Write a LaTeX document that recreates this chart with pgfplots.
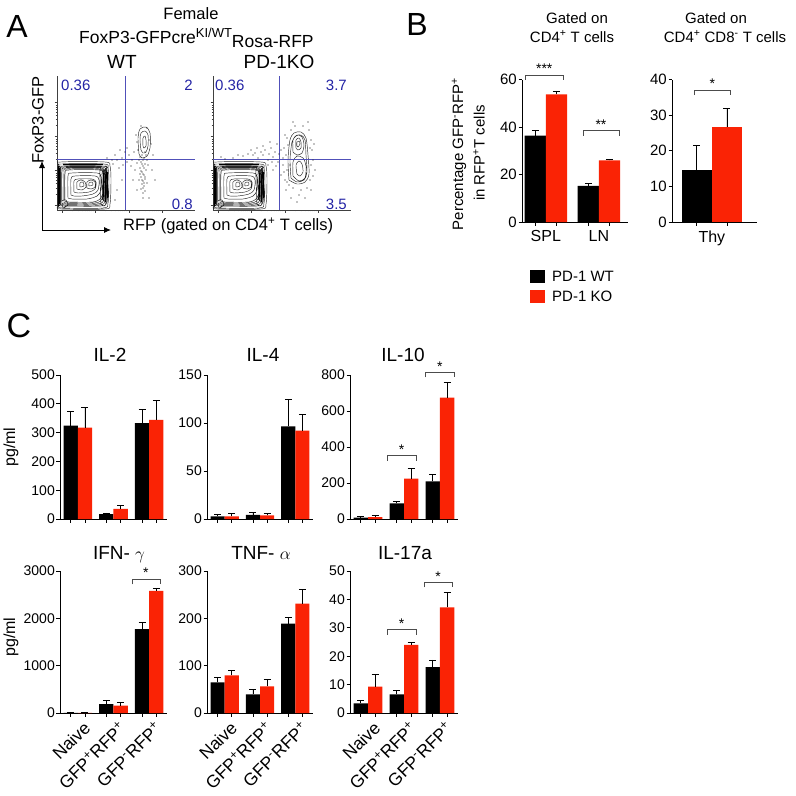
\documentclass[border=0pt]{standalone}
\usepackage{fontspec}
\setmainfont{Liberation Sans}
\usepackage{pgfplots}
\usepackage{pgfplotstable}
\pgfplotsset{compat=1.18}
\usetikzlibrary{arrows.meta}

\definecolor{koRed}{RGB}{250,35,5}
\definecolor{gateBlue}{RGB}{80,80,185}
\definecolor{numBlue}{RGB}{35,35,165}
\newcommand{\fs}[1]{\fontsize{#1}{#1}\selectfont}

% contour outlines of the main CD4 population (shared by both flow plots)
\pgfplotstableread{
x y
1 3
1 44
4 48
48 48
53 44
54 30
53 6
48 1
4 1
1 3
nan nan
2 4
2 42
5 46
47 46
51 42
52 28
51 7
46 2
5 2
2 4
nan nan
3 5
3 40
6 44
45 44
50 40
50 26
49 8
44 4
6 4
3 5
nan nan
4 6
4 39
7 43
44 43
49 39
49 25
48 9
42 5
7 5
4 6
nan nan
5 7
5 38
9 42
43 42
48 38
48 24
47 10
40 6
9 6
5 7
nan nan
7 8
7 37
10 41
42 41
47 37
47 22
45 11
38 7
10 7
7 8
nan nan
8 9
8 36
12 40
42 40
46 36
46 20
44 12
36 8
12 8
8 9
nan nan
11 12
11 34
15 37
40 37
44 33
44 20
40 14
30 11
15 11
11 12
nan nan
14 15
14 31
18 34
38 34
42 30
41 20
36 16
25 14
17 14
14 15
nan nan
17 18
17 29
21 31
35 31
39 28
38 21
32 18
21 17
17 18
nan nan
20 21
20 28
24 30
28 28
29 23
25 20
20 21
nan nan
30 22
30 28
34 30
38 28
38 23
34 21
30 22
nan nan
23 23
23 27
26 28
27 24
23 23
nan nan
32 24
32 27
35 28
36 25
32 24
nan nan
44 6
43 40
47 44
51 42
52 26
50 8
47 4
44 6
nan nan
46 10
45 38
48 40
50 36
50 14
48 9
46 10
nan nan
47 14
47 34
49 35
49 16
47 14
nan nan
6 2
5 9
9 10
11 5
6 2
}\mainpop

% dense (dark) edges of the main population
\pgfplotstableread{
x y
1.5 4
1.5 44
nan nan
3 6
3 42
nan nan
46 10
47 40
nan nan
48.5 8
49 42
nan nan
50.5 12
50.5 38
nan nan
6 45.5
46 45.5
nan nan
9 43
44 43
}\mainband

\pgfplotstableread{
x y
84 60
83 70
84 77
88 79
91 75
91 64
89 58
86 57
84 60
nan nan
86 64
86 72
88 74
89 70
89 64
87 62
86 64
nan nan
82 56
81 72
83 81
89 83
93 77
93 62
90 54
85 52
82 56
}\wtclus

\pgfplotstableread{
x y
85 55
87 52
84 48
88 46
86 44
83 42
89 40
85 38
87 35
84 33
88 31
86 29
85 26
87 24
84 21
88 19
86 17
83 36
90 50
82 50
91 45
80 47
86 12
88 58
81 60
92 70
80 68
90 82
84 84
79 75
94 66
82 30
90 27
60 50
65 52
70 48
55 50
72 55
75 50
58 55
66 45
74 44
62 42
68 58
50 52
56 46
78 40
77 58
70 62
63 60
95 40
96 55
76 30
80 20
92 12
98 30
60 20
65 30
58 10
86 50
85 46
87 42
84 39
86 36
88 33
85 30
87 27
86 22
89 55
83 53
}\wtdots

\pgfplotstableread{
x y
76 30
75 50
77 70
81 77
88 78
93 72
95 55
96 36
92 28
84 26
76 30
nan nan
78 32
77 50
79 68
83 74
88 75
92 70
93 55
94 38
91 30
84 28
78 32
nan nan
80 58
80 70
84 75
89 73
91 65
89 57
84 55
80 58
nan nan
83 62
83 70
86 72
88 68
88 62
85 60
83 62
nan nan
84 64
84 68
86 69
87 66
85 63
84 64
nan nan
80 34
80 48
84 54
90 52
93 44
92 32
86 29
80 34
nan nan
84 36
83 45
86 49
89 46
90 38
87 34
84 36
}\koclus

\pgfplotstableread{
x y
72 30
74 40
73 55
75 65
78 80
82 84
90 84
96 80
98 70
99 60
98 45
97 30
94 22
88 20
80 22
76 25
70 45
71 62
100 50
86 15
92 12
78 12
84 8
102 40
68 35
95 88
80 88
77 45
97 62
74 72
45 52
50 55
55 50
60 53
62 58
58 62
65 48
66 56
52 60
48 58
40 55
35 56
30 54
56 56
63 44
60 40
55 45
68 60
44 62
38 60
64 66
57 68
50 64
42 57
70 52
59 48
20 52
12 51
25 55
8 53
74 28
73 20
98 20
100 34
71 38
101 66
72 75
}\kodots

\pgfplotsset{
  flow/.style={scale only axis, anchor=south west, width=138pt, height=134pt,
    xmin=0, xmax=138, ymin=0, ymax=134, axis lines=left,
    axis line style={-, line width=0.5pt, black!75}, clip=false,
    tick align=outside, major tick length=2.5pt, minor tick length=1.3pt,
    every tick/.style={black!75, line width=0.4pt},
    xtick={5,38,72,105}, ytick={5,40,74,108}, xticklabels={}, yticklabels={},
    minor xtick={15,21,25,28,30,32,34,36,48,54,58,61,63,65,67,69,82,88,92,95,97,99,101,103},
    minor ytick={16,22,27,30,33,35,37,51,57,61,64,67,69,71,85,91,95,98,101,103,105}},
  contour/.style={black!85, line width=0.45pt, smooth, unbounded coords=jump},
  band/.style={black, line width=1.3pt, unbounded coords=jump},
  dots/.style={only marks, mark=*, mark size=0.3pt, black!80},
  prism/.style={scale only axis, anchor=south west, axis lines=left,
    axis line style={-, line width=0.8pt}, clip=false, ymin=0,
    tick align=outside, major tick length=3.5pt,
    every tick/.style={black, line width=0.8pt},
    tick label style={font=\fs{14}},
    /pgf/number format/assume math mode=true,
    /pgf/number format/1000 sep={},
    scaled y ticks=false,
    yticklabel style={inner sep=1.5pt},
    xmin=-0.5, xmax=2.5,
    xtick={-0.2,0.2,0.8,1.2,1.8,2.2}, xticklabels={}},
  rowtwo/.style={extra x ticks={0,1,2},
    extra x tick labels={Naive, GFP\textsuperscript{+}RFP\textsuperscript{+}, GFP\textsuperscript{-}RFP\textsuperscript{+}},
    extra x tick style={major tick length=0pt,
      xticklabel style={xshift=10pt, yshift=-11pt, rotate=45, anchor=east, inner sep=1pt, font=\fs{17.5}}}},
  errs/.style={error bars/y dir=plus, error bars/y explicit,
    error bars/error bar style={black, line width=0.8pt},
    error bars/error mark options={black, rotate=90, mark size=3.5pt, line width=0.8pt}},
  wt/.style={fill=black, draw=none, ybar, bar width=0.4, bar shift=0pt, errs},
  ko/.style={fill=koRed, draw=none, ybar, bar width=0.4, bar shift=0pt, errs},
}

% significance bracket: x1, x2, y, stars
\newcommand{\sig}[4]{\draw[draw=black!70, line width=0.6pt]
  ([yshift=-5pt]axis cs:#1,#3) -- (axis cs:#1,#3) --
  node[midway, anchor=south, inner sep=1pt, font=\fs{14}] {#4}
  (axis cs:#2,#3) -- ([yshift=-5pt]axis cs:#2,#3);}

\begin{document}
\begin{tikzpicture}
\path[use as bounding box] (0,0) rectangle (796pt,-796pt);

% ---------------- panel A ----------------
\node[anchor=base, font=\fs{32}] at (17pt,-37pt) {A};
\node[anchor=base, font=\fs{16.5}] at (191pt,-19pt) {Female};
\node[anchor=base west, font=\fs{17.5}, inner sep=0pt] at (79pt,-43pt)
  {FoxP3-GFPcre\raisebox{6pt}{\fs{13}KI/WT}\raisebox{-4pt}{Rosa-RFP}};
\node[anchor=base, font=\fs{19}] at (122pt,-68pt) {WT};
\node[anchor=base, font=\fs{19}] at (279pt,-68pt) {PD-1KO};

\begin{axis}[flow, at={(57pt,-210pt)}]
\addplot[contour] table {\mainpop};
\addplot[band] table {\mainband};
\addplot[contour] table {\wtclus};
\addplot[dots] table {\wtdots};
\addplot[gateBlue, line width=0.6pt] coordinates {(68,0) (68,134)};
\addplot[gateBlue, line width=0.6pt] coordinates {(0,51) (138,51)};
\node[anchor=west, numBlue, font=\fs{15}, inner sep=0pt] at (axis cs:4,125) {0.36};
\node[anchor=east, numBlue, font=\fs{15}, inner sep=0pt] at (axis cs:136,125) {2};
\node[anchor=east, numBlue, font=\fs{15}, inner sep=0pt] at (axis cs:136,6) {0.8};
\end{axis}

\begin{axis}[flow, at={(213pt,-210pt)}]
\addplot[contour] table {\mainpop};
\addplot[band] table {\mainband};
\addplot[contour] table {\koclus};
\addplot[dots] table {\kodots};
\addplot[gateBlue, line width=0.6pt] coordinates {(66,0) (66,134)};
\addplot[gateBlue, line width=0.6pt] coordinates {(0,51) (138,51)};
\node[anchor=west, numBlue, font=\fs{15}, inner sep=0pt] at (axis cs:2,125) {0.36};
\node[anchor=east, numBlue, font=\fs{15}, inner sep=0pt] at (axis cs:134,125) {3.7};
\node[anchor=east, numBlue, font=\fs{15}, inner sep=0pt] at (axis cs:134,6) {3.5};
\end{axis}

\node[rotate=90, font=\fs{16.5}] at (38pt,-120pt) {FoxP3-GFP};
\draw[line width=0.9pt, -{Latex[length=7pt,width=6pt]}] (42pt,-230pt) -- (42pt,-161pt);
\draw[line width=0.9pt, -{Latex[length=7pt,width=6pt]}] (42pt,-230pt) -- (111pt,-230pt);
\node[anchor=west, font=\fs{16.5}, inner sep=0pt] at (123pt,-226pt) {RFP (gated on CD4\textsuperscript{+} T cells)};

% ---------------- panel B ----------------
\node[anchor=base, font=\fs{32}] at (417pt,-35pt) {B};
\node[anchor=base, font=\fs{15}] at (577pt,-23pt) {Gated on};
\node[anchor=base, font=\fs{15}] at (572pt,-42pt) {CD4\textsuperscript{+} T cells};
\node[anchor=base, font=\fs{15}] at (716pt,-23pt) {Gated on};
\node[anchor=base, font=\fs{15}] at (725pt,-42pt) {CD4\textsuperscript{+} CD8\textsuperscript{-} T cells};
\node[rotate=90, font=\fs{15}] at (459pt,-154pt) {Percentage GFP\textsuperscript{-}RFP\textsuperscript{+}};
\node[rotate=90, font=\fs{15}] at (479pt,-153pt) {in RFP\textsuperscript{+}T cells};

\begin{axis}[prism, at={(522pt,-222pt)}, width=106pt, height=142.5pt,
  xmin=-0.45, xmax=1.55, ymax=60, ytick={0,20,40,60},
  xtick={-0.2,0.2,0.8,1.2}, tick label style={font=\fs{15}},
  extra x ticks={0,1}, extra x tick labels={SPL,LN},
  extra x tick style={major tick length=0pt, xticklabel style={yshift=-5pt, font=\fs{16}}}]
\addplot[wt] coordinates {(-0.2,36.4) +- (0,2.1) (0.8,15.2) +- (0,1.2)};
\addplot[ko] coordinates {(0.2,53.7) +- (0,1.5) (1.2,25.9) +- (0,0.5)};
\sig{-0.38}{0.32}{61.8}{***}
\sig{0.70}{1.38}{38.5}{**}
\end{axis}

\begin{axis}[prism, at={(672pt,-222pt)}, width=85pt, height=142.5pt,
  xmin=-0.53, xmax=0.6, ymax=40, ytick={0,10,20,30,40},
  xtick={-0.2,0.2}, tick label style={font=\fs{15}},
  extra x ticks={0}, extra x tick labels={Thy},
  extra x tick style={major tick length=0pt, xticklabel style={yshift=-5pt, font=\fs{16}}}]
\addplot[wt] coordinates {(-0.2,14.5) +- (0,7.0)};
\addplot[ko] coordinates {(0.2,26.6) +- (0,5.2)};
\sig{-0.24}{0.25}{37}{*}
\end{axis}

\fill[black] (530pt,-270pt) rectangle (545pt,-283pt);
\fill[koRed] (530pt,-290pt) rectangle (545pt,-303pt);
\node[anchor=west, font=\fs{15}, inner sep=0pt] at (552pt,-276.5pt) {PD-1 WT};
\node[anchor=west, font=\fs{15}, inner sep=0pt] at (552pt,-296.5pt) {PD-1 KO};

% ---------------- panel C ----------------
\node[anchor=base, font=\fs{34}] at (19pt,-337pt) {C};
\node[anchor=base, font=\fs{19}] at (110pt,-361pt) {IL-2};
\node[anchor=base, font=\fs{19}] at (263pt,-361pt) {IL-4};
\node[anchor=base, font=\fs{19}] at (403pt,-361pt) {IL-10};
\node[anchor=base, font=\fs{19}] at (119pt,-559pt) {IFN- $\gamma$};
\node[anchor=base, font=\fs{19}] at (261pt,-559pt) {TNF- $\alpha$};
\node[anchor=base, font=\fs{19}] at (405pt,-559pt) {IL-17a};
\node[rotate=90, font=\fs{16}] at (11pt,-447pt) {pg/ml};
\node[rotate=90, font=\fs{16}] at (11pt,-637pt) {pg/ml};

\begin{axis}[prism, at={(60pt,-519pt)}, width=107pt, height=144pt,
  ymax=500, ytick={0,100,200,300,400,500}]
\addplot[wt] coordinates {(-0.2,324) +- (0,49) (0.8,17) +- (0,4) (1.8,333) +- (0,48)};
\addplot[ko] coordinates {(0.2,317) +- (0,72) (1.2,35) +- (0,11) (2.2,344) +- (0,67)};
\end{axis}

\begin{axis}[prism, at={(207pt,-519pt)}, width=106pt, height=144pt,
  ymax=150, ytick={0,50,100,150}]
\addplot[wt] coordinates {(-0.2,2.8) +- (0,1.7) (0.8,4.2) +- (0,2.4) (1.8,96.5) +- (0,28)};
\addplot[ko] coordinates {(0.2,2.8) +- (0,2.7) (1.2,3.8) +- (0,2.1) (2.2,92) +- (0,17)};
\end{axis}

\begin{axis}[prism, at={(350pt,-519pt)}, width=108pt, height=144pt,
  ymax=800, ytick={0,200,400,600,800}]
\addplot[wt] coordinates {(-0.2,7) +- (0,5) (0.8,87) +- (0,11) (1.8,209) +- (0,39)};
\addplot[ko] coordinates {(0.2,10) +- (0,12) (1.2,224) +- (0,56) (2.2,674) +- (0,85)};
\sig{0.53}{1.33}{352}{*}
\sig{1.60}{2.39}{815}{*}
\end{axis}

\begin{axis}[prism, rowtwo, at={(60pt,-713pt)}, width=107pt, height=142pt,
  ymax=3000, ytick={0,1000,2000,3000}]
\addplot[wt] coordinates {(-0.2,5) +- (0,3) (0.8,190) +- (0,70) (1.8,1771) +- (0,147)};
\addplot[ko] coordinates {(0.2,3) +- (0,2) (1.2,155) +- (0,77) (2.2,2579) +- (0,49)};
\sig{1.52}{2.30}{2825}{*}
\end{axis}

\begin{axis}[prism, rowtwo, at={(207pt,-713pt)}, width=106pt, height=142pt,
  ymax=300, ytick={0,100,200,300}]
\addplot[wt] coordinates {(-0.2,64.6) +- (0,11.3) (0.8,39.3) +- (0,11.3) (1.8,189) +- (0,13)};
\addplot[ko] coordinates {(0.2,79.4) +- (0,10.6) (1.2,56.2) +- (0,15.5) (2.2,231) +- (0,30)};
\end{axis}

\begin{axis}[prism, rowtwo, at={(350pt,-713pt)}, width=108pt, height=142pt,
  ymax=50, ytick={0,10,20,30,40,50}]
\addplot[wt] coordinates {(-0.2,3.4) +- (0,0.9) (0.8,6.6) +- (0,1.4) (1.8,16.2) +- (0,2.5)};
\addplot[ko] coordinates {(0.2,9.25) +- (0,4.45) (1.2,24.0) +- (0,0.7) (2.2,37.2) +- (0,5.4)};
\sig{0.53}{1.33}{29.3}{*}
\sig{1.56}{2.33}{46}{*}
\end{axis}
\end{tikzpicture}
\end{document}
